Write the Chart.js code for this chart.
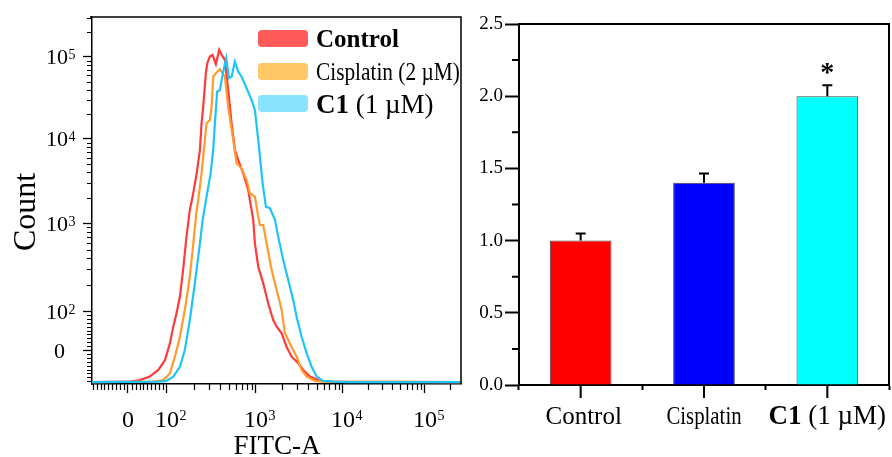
<!DOCTYPE html>
<html>
<head>
<meta charset="utf-8">
<script src="https://cdn.jsdelivr.net/npm/chart.js@4/dist/chart.umd.min.js"></script>
<style>
  html, body { margin: 0; padding: 0; background: #fff; }
  #wrap { position: relative; width: 892px; height: 457px; overflow: hidden; background: #fff; }
  #hist { position: absolute; left: 0; top: 0; }
  #bars { position: absolute; left: 470px; top: 0; }
</style>
</head>
<body>
<div id="wrap">
  <canvas id="hist" width="470" height="457"></canvas>
  <canvas id="bars" width="422" height="457"></canvas>
</div>
<script>
// ---------------- DATA ----------------
const seriesNames = ['Control', 'Cisplatin (2 µM)', 'C1 (1 µM)'];

const controlFITC  = [-92, 5, 31, 56, 78, 95, 108, 118, 128, 140, 152, 166, 181, 196, 216, 235, 245, 256, 274, 285, 304, 326, 355, 387, 412, 448, 488, 533, 581, 633, 720, 819, 933, 974, 1063, 1213, 1385, 1580, 1730, 1975, 2254, 2573, 3063, 3498, 4176, 5440, 7090, 275000];
const controlCount = [-82, -81, -77, -68, -51, -26, 17, 60, 94, 145, 292, 699, 1430, 2150, 3900, 7400, 15500, 24800, 63800, 84500, 101000, 106000, 82000, 122000, 106000, 92000, 39600, 15500, 7400, 5620, 3900, 2470, 1090, 588, 319, 206, 122, 77, 60, 43, 8, -17, -34, -51, -68, -79, -81, -82];

const cisplatinFITC  = [-92, 65, 91, 108, 123, 140, 159, 181, 198, 216, 225, 245, 267, 279, 304, 318, 331, 355, 394, 448, 488, 556, 607, 690, 786, 856, 974, 1063, 1112, 1213, 1327, 1515, 1730, 1975, 2154, 2573, 2937, 3353, 3826, 4770, 5940, 275000];
const cisplatinCount = [-82, -81, -77, -60, -17, 34, 103, 245, 588, 1430, 1880, 3900, 9730, 15500, 17000, 24800, 57500, 63300, 70800, 57500, 24800, 9730, 5140, 4480, 3250, 2260, 2060, 1190, 949, 949, 588, 292, 173, 103, 43, 8, -17, -51, -68, -79, -81, -82];

const c1FITC  = [-92, 82, 99, 118, 140, 159, 181, 206, 235, 252, 279, 310, 331, 346, 367, 394, 429, 464, 497, 533, 581, 633, 690, 786, 894, 974, 1063, 1112, 1194, 1303, 1449, 1654, 1804, 2060, 2351, 2684, 2937, 3353, 3826, 4367, 4985, 5940, 7736, 11510, 275000];
const c1Count = [-82, -81, -79, -68, -43, 0, 77, 206, 588, 1090, 2060, 3900, 7400, 15500, 37700, 39600, 66200, 95900, 55400, 57500, 87600, 66200, 57500, 41500, 29900, 22600, 9730, 6160, 2970, 1560, 1500, 1090, 699, 380, 225, 133, 85, 34, -8, -43, -68, -79, -81, -82, -82];

const histXTicks = [0, 100, 1000, 10000, 100000];
const histXTickLabels = ['0', '10^2', '10^3', '10^4', '10^5'];
const histYTicks = [0, 100, 1000, 10000, 100000];
const histYTickLabels = ['0', '10^2', '10^3', '10^4', '10^5'];
const histXTitle = 'FITC-A';
const histYTitle = 'Count';

const barCategories = ['Control', 'Cisplatin', 'C1 (1 µM)'];
const barValues = [1.0, 1.4, 2.0];
const barErrors = [0.05, 0.065, 0.075];
const barMarks = ['', '', '*'];
const barYTicks = [0, 0.5, 1.0, 1.5, 2.0, 2.5];

// ---------------- STYLE ----------------
const lineColors = ['rgb(255,58,58)', 'rgb(255,155,45)', 'rgb(30,196,245)'];
const swatchColors = ['#ff5a5a', '#ffc766', '#8ae4ff'];
const barColors = ['#ff0000', '#0000ff', '#00ffff'];
const SERIF = '"Liberation Serif", "Times New Roman", serif';

// biexponential-like display transform (axis definition)
const BIEX = {
  x: { values: [0, 100, 1000, 10000, 100000], units: [0, 39, 128, 215, 297], majors: histXTicks },
  y: { values: [0, 100, 1000, 10000, 100000], units: [0, 39, 127, 211, 293], majors: histYTicks }
};

class BiexScale extends Chart.Scale {
  _cfg() { return BIEX[this.id]; }
  _t(v) {
    const c = this._cfg(), A = c.values, U = c.units;
    if (v <= A[1]) return U[0] + (v - A[0]) * (U[1] - U[0]) / (A[1] - A[0]);
    const lv = Math.log10(v);
    for (let i = 1; i < A.length - 1; i++) {
      if (v <= A[i + 1]) {
        const l0 = Math.log10(A[i]), l1 = Math.log10(A[i + 1]);
        return U[i] + (lv - l0) / (l1 - l0) * (U[i + 1] - U[i]);
      }
    }
    const n = A.length - 1, l0 = Math.log10(A[n - 1]), l1 = Math.log10(A[n]);
    return U[n] + (lv - l1) / (l1 - l0) * (U[n] - U[n - 1]);
  }
  determineDataLimits() { this.min = this.options.min; this.max = this.options.max; }
  buildTicks() { return this._cfg().majors.map(v => ({ value: v })); }
  configure() {
    super.configure();
    this._tmin = this._t(this.min);
    this._tmax = this._t(this.max);
  }
  getPixelForValue(v) { return this.getPixelForDecimal((this._t(v) - this._tmin) / (this._tmax - this._tmin)); }
  getValueForPixel() { return null; }
  getPixelForTick(i) { return this.getPixelForValue(this.ticks[i].value); }
  getLabelForValue(v) { return String(v); }
}
BiexScale.id = 'biex';
BiexScale.defaults = {};
Chart.register(BiexScale);

function minorList(linStep, linMin, linMax, decades, extra) {
  const out = [];
  for (let v = linMin; v <= linMax; v += linStep) if (v !== 0) out.push(v);
  decades.forEach(d => { for (let k = 2; k <= 9; k++) out.push(k * d); });
  return out.concat(extra);
}
const histXMinor = minorList(10, -90, 90, [100, 1000, 10000], [200000]);
const histYMinor = minorList(10, -80, 90, [100, 1000, 10000], [200000, 300000]);

function zip(xs, ys) { return xs.map((x, i) => ({ x: x, y: ys[i] })); }

function drawSupLabel(ctx, label, x, y, baseSize, supSize, supRise, align) {
  const parts = label.split('^');
  ctx.font = baseSize + 'px ' + SERIF;
  const bw = ctx.measureText(parts[0]).width;
  let left;
  if (align === 'center') left = x - bw / 2;
  else left = x - bw;
  ctx.textAlign = 'left';
  ctx.textBaseline = 'alphabetic';
  ctx.fillText(parts[0], left, y);
  if (parts[1]) {
    ctx.font = supSize + 'px ' + SERIF;
    ctx.fillText(parts[1], left + bw + 0.5, y - supRise);
  }
}

const histDecor = {
  id: 'histDecor',
  afterDraw(chart) {
    const ctx = chart.ctx, xs = chart.scales.x, ys = chart.scales.y, a = chart.chartArea;
    ctx.save();
    ctx.strokeStyle = '#000';
    ctx.lineWidth = 1.2;
    ctx.beginPath();
    histXMinor.forEach(v => {
      const px = Math.round(xs.getPixelForValue(v)) + 0.5;
      ctx.moveTo(px, a.bottom); ctx.lineTo(px, a.bottom + 6);
    });
    histYMinor.forEach(v => {
      const py = Math.round(ys.getPixelForValue(v)) + 0.5;
      ctx.moveTo(a.left, py); ctx.lineTo(a.left - 5, py);
    });
    ctx.stroke();
    ctx.lineWidth = 1.5;
    ctx.beginPath();
    ctx.moveTo(a.left - 2, a.top); ctx.lineTo(a.right, a.top); ctx.lineTo(a.right, a.bottom);
    ctx.stroke();
    ctx.fillStyle = '#000';
    histXTicks.forEach((v, i) => drawSupLabel(ctx, histXTickLabels[i], xs.getPixelForValue(v), 427, 24, 14, 7, 'center'));
    histYTicks.forEach((v, i) => {
      const right = histYTickLabels[i].indexOf('^') < 0 ? 65 : 68;
      drawSupLabel(ctx, histYTickLabels[i], right, ys.getPixelForValue(v) + 7.5, 22, 14, 5, 'right');
    });
    ctx.font = '27px ' + SERIF;
    ctx.textAlign = 'center';
    ctx.textBaseline = 'alphabetic';
    ctx.fillText(histXTitle, (a.left + a.right) / 2 + 0.5, 454);
    ctx.save();
    ctx.translate(35, 212);
    ctx.rotate(-Math.PI / 2);
    ctx.font = '32px ' + SERIF;
    ctx.fillText(histYTitle, 0, 0);
    ctx.restore();
    const rows = [30, 63, 95];
    const bases = [47, 80, 113];
    seriesNames.forEach((name, i) => {
      ctx.fillStyle = swatchColors[i];
      ctx.beginPath();
      ctx.roundRect(258, rows[i], 50, 17, 4);
      ctx.fill();
      ctx.fillStyle = '#000';
      ctx.textAlign = 'left';
      if (i === 0) {
        ctx.font = 'bold 25px ' + SERIF;
        ctx.fillText(name, 316, bases[i]);
      } else if (i === 1) {
        ctx.save();
        ctx.translate(316, bases[i]);
        ctx.scale(0.82, 1);
        ctx.font = '26px ' + SERIF;
        ctx.fillText(name, 0, 0);
        ctx.restore();
      } else {
        const sp = name.indexOf(' ');
        const b = name.slice(0, sp), r = name.slice(sp);
        ctx.font = 'bold 27px ' + SERIF;
        ctx.fillText(b, 316, bases[i]);
        const w = ctx.measureText(b).width;
        ctx.font = '27px ' + SERIF;
        ctx.fillText(r, 316 + w, bases[i]);
      }
    });
    ctx.restore();
  }
};

new Chart(document.getElementById('hist'), {
  type: 'line',
  data: {
    datasets: [
      { label: seriesNames[0], data: zip(controlFITC, controlCount), borderColor: lineColors[0], order: 2 },
      { label: seriesNames[1], data: zip(cisplatinFITC, cisplatinCount), borderColor: lineColors[1], order: 1 },
      { label: seriesNames[2], data: zip(c1FITC, c1Count), borderColor: lineColors[2], order: 0 }
    ]
  },
  options: {
    responsive: false,
    animation: false,
    devicePixelRatio: 1,
    layout: { padding: { top: 17, right: 9, left: 0, bottom: 0 } },
    plugins: { legend: { display: false }, tooltip: { enabled: false } },
    elements: { point: { radius: 0 }, line: { borderWidth: 2.2, tension: 0, fill: false } },
    scales: {
      x: {
        type: 'biex', position: 'bottom', min: -92, max: 275000,
        afterFit: s => { s.height = 73; },
        grid: { drawOnChartArea: false, drawTicks: true, tickLength: 9, tickColor: '#000', tickWidth: 1.3 },
        border: { display: true, color: '#000', width: 1.5 },
        ticks: { display: false, autoSkip: false }
      },
      y: {
        type: 'biex', position: 'left', min: -87, max: 307000,
        afterFit: s => { s.width = 92; },
        grid: { drawOnChartArea: false, drawTicks: true, tickLength: 9, tickColor: '#000', tickWidth: 1.3 },
        border: { display: true, color: '#000', width: 1.5 },
        ticks: { display: false, autoSkip: false }
      }
    }
  },
  plugins: [histDecor]
});

// ---------------- BAR CHART ----------------
const barDecor = {
  id: 'barDecor',
  afterDatasetsDraw(chart) {
    const ctx = chart.ctx, ys = chart.scales.y, meta = chart.getDatasetMeta(0);
    ctx.save();
    ctx.strokeStyle = '#000';
    ctx.lineWidth = 2;
    meta.data.forEach((bar, i) => {
      const x = bar.x;
      const yTop = ys.getPixelForValue(barValues[i] + barErrors[i]);
      const yVal = ys.getPixelForValue(barValues[i]);
      ctx.beginPath();
      ctx.moveTo(x, yVal); ctx.lineTo(x, yTop);
      ctx.moveTo(x - 5, yTop); ctx.lineTo(x + 5, yTop);
      ctx.stroke();
      if (barMarks[i]) {
        ctx.fillStyle = '#000';
        ctx.font = 'bold 28px ' + SERIF;
        ctx.textAlign = 'center';
        ctx.textBaseline = 'alphabetic';
        ctx.fillText(barMarks[i], x, yTop - 4);
      }
    });
    ctx.restore();
  },
  afterDraw(chart) {
    const ctx = chart.ctx, xs = chart.scales.x, ys = chart.scales.y, a = chart.chartArea;
    ctx.save();
    ctx.strokeStyle = '#000';
    ctx.lineWidth = 2;
    ctx.beginPath();
    barCategories.forEach((c, i) => {
      const x = xs.getPixelForTick(i);
      ctx.moveTo(x, a.bottom); ctx.lineTo(x, a.bottom + 13);
    });
    for (let i = 0; i < barYTicks.length - 1; i++) {
      const py = ys.getPixelForValue((barYTicks[i] + barYTicks[i + 1]) / 2);
      ctx.moveTo(a.left, py); ctx.lineTo(a.left - 7, py);
    }
    ctx.stroke();
    ctx.beginPath();
    ctx.moveTo(a.left, a.top); ctx.lineTo(a.right, a.top); ctx.lineTo(a.right, a.bottom);
    ctx.stroke();
    ctx.fillStyle = '#000';
    ctx.textBaseline = 'alphabetic';
    const base = 424;
    barCategories.forEach((c, i) => {
      const x = xs.getPixelForTick(i);
      if (i === 0) {
        ctx.font = '25px ' + SERIF; ctx.textAlign = 'center';
        ctx.fillText(c, x + 3, base);
      } else if (i === 1) {
        ctx.save();
        ctx.translate(x, base);
        ctx.scale(0.8, 1);
        ctx.font = '26px ' + SERIF; ctx.textAlign = 'center';
        ctx.fillText(c, 0, 0);
        ctx.restore();
      } else {
        const sp = c.indexOf(' ');
        const b = c.slice(0, sp), r = c.slice(sp);
        ctx.font = 'bold 27px ' + SERIF;
        const wb = ctx.measureText(b).width;
        ctx.font = '27px ' + SERIF;
        const wr = ctx.measureText(r).width;
        const left = x - (wb + wr) / 2;
        ctx.textAlign = 'left';
        ctx.font = 'bold 27px ' + SERIF;
        ctx.fillText(b, left, base);
        ctx.font = '27px ' + SERIF;
        ctx.fillText(r, left + wb, base);
      }
    });
    ctx.restore();
  }
};

new Chart(document.getElementById('bars'), {
  type: 'bar',
  data: {
    labels: barCategories,
    datasets: [{
      data: barValues,
      backgroundColor: barColors,
      borderColor: '#444',
      borderWidth: 1,
      barPercentage: 0.5,
      categoryPercentage: 1.0
    }]
  },
  options: {
    responsive: false,
    animation: false,
    devicePixelRatio: 1,
    layout: { padding: { top: 24, right: 3, left: 0, bottom: 0 } },
    plugins: { legend: { display: false }, tooltip: { enabled: false } },
    scales: {
      x: {
        afterFit: s => { s.height = 72; },
        grid: { drawOnChartArea: false, drawTicks: true, tickLength: 5, tickColor: '#000', tickWidth: 2, offset: true },
        border: { display: true, color: '#000', width: 2 },
        ticks: { display: false }
      },
      y: {
        min: 0, max: 2.5,
        afterFit: s => { s.width = 49; },
        afterBuildTicks: s => { s.ticks = barYTicks.map(v => ({ value: v })); },
        grid: { drawOnChartArea: false, drawTicks: true, tickLength: 14, tickColor: '#000', tickWidth: 2 },
        border: { display: true, color: '#000', width: 2 },
        ticks: { color: '#000', padding: 2, font: { family: 'Liberation Serif', size: 19 }, callback: v => Number(v).toFixed(1) }
      }
    }
  },
  plugins: [barDecor]
});
</script>
</body>
</html>
